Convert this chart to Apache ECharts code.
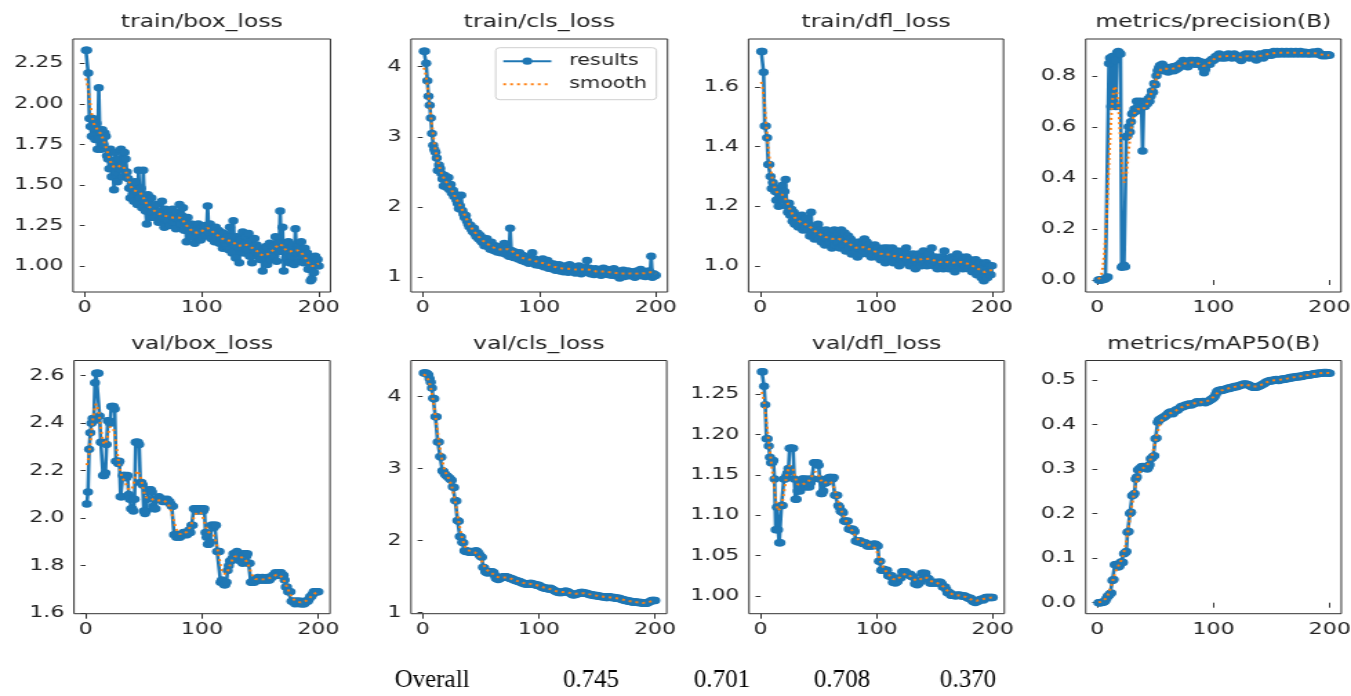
<!DOCTYPE html>
<html><head><meta charset="utf-8">
<script src="https://cdn.jsdelivr.net/npm/echarts@6/dist/echarts.min.js"></script>
<style>
html,body{margin:0;padding:0;background:#fff;overflow:hidden;width:1351px;height:696px}
#c{position:absolute;left:0;top:0;height:696px;transform-origin:0 0;}
</style></head><body><div id="c"></div>
<script>
// ---------------- data ----------------
const panelTitles = ['train/box_loss','train/cls_loss','train/dfl_loss','metrics/precision(B)','val/box_loss','val/cls_loss','val/dfl_loss','metrics/mAP50(B)'];
const legendNames = ['results','smooth'];
const xTickValues = [0,100,200];
const yTickValues = [
  [1.00,1.25,1.50,1.75,2.00,2.25],
  [1,2,3,4],
  [1.0,1.2,1.4,1.6],
  [0.0,0.2,0.4,0.6,0.8],
  [1.6,1.8,2.0,2.2,2.4,2.6],
  [1,2,3,4],
  [1.00,1.05,1.10,1.15,1.20,1.25],
  [0.0,0.1,0.2,0.3,0.4,0.5]
];
const yTickDecimals = [2,0,1,1,1,0,2,1];
const tableLabels = ['Overall','0.745','0.701','0.708','0.370'];

const trainBoxLoss = [
2.33,2.33,2.19,1.91,1.86,1.80,1.91,1.85,1.78,1.88,
1.72,2.10,1.78,1.72,1.84,1.75,1.82,1.80,1.68,1.66,
1.60,1.72,1.55,1.65,1.47,1.70,1.58,1.52,1.66,1.60,
1.72,1.62,1.55,1.70,1.66,1.58,1.54,1.48,1.42,1.50,
1.44,1.40,1.52,1.46,1.38,1.59,1.42,1.48,1.36,1.59,
1.40,1.34,1.26,1.44,1.38,1.30,1.42,1.33,1.36,1.30,
1.38,1.31,1.27,1.34,1.29,1.40,1.30,1.24,1.35,1.32,
1.28,1.34,1.25,1.31,1.35,1.27,1.30,1.23,1.33,1.29,
1.38,1.26,1.31,1.36,1.22,1.28,1.15,1.30,1.24,1.20,
1.26,1.18,1.23,1.14,1.22,1.19,1.26,1.20,1.16,1.24,
1.18,1.22,1.25,1.19,1.37,1.21,1.26,1.17,1.23,1.20,
1.15,1.24,1.19,1.22,1.14,1.21,1.17,1.11,1.20,1.16,
1.12,1.18,1.10,1.24,1.15,1.08,1.28,1.13,1.05,1.18,
1.12,1.02,1.16,1.10,1.21,1.08,1.14,1.18,1.10,1.20,
1.06,1.15,1.02,1.12,1.17,1.09,1.13,1.06,1.11,1.04,
1.08,0.97,1.10,1.05,1.12,1.01,1.07,1.14,1.04,1.09,
1.12,1.06,1.18,1.03,1.14,1.09,1.34,1.10,1.24,0.97,
1.12,1.05,1.09,1.15,1.02,1.11,1.06,1.13,1.01,1.23,
1.08,1.12,1.03,1.10,1.15,1.06,1.02,1.11,1.04,1.08,
0.98,1.05,0.91,0.92,1.03,0.96,1.06,1.01,1.04,1.00];

const trainClsLoss = [
4.22,4.22,4.05,3.80,3.58,3.45,3.27,3.05,2.88,2.82,
2.78,2.70,2.52,2.60,2.55,2.48,2.40,2.30,2.45,2.36,
2.28,2.42,2.25,2.32,2.20,2.24,2.15,2.18,2.10,2.05,
1.98,2.02,2.17,1.95,1.90,1.85,1.88,1.80,1.76,1.72,
1.74,1.68,1.65,1.70,1.62,1.58,1.63,1.55,1.60,1.52,
1.50,1.56,1.45,1.48,1.55,1.44,1.46,1.40,1.50,1.42,
1.38,1.45,1.40,1.36,1.43,1.39,1.35,1.42,1.37,1.48,
1.33,1.40,1.36,1.30,1.70,1.38,1.34,1.28,1.36,1.32,
1.30,1.26,1.35,1.29,1.24,1.31,1.27,1.22,1.28,1.25,
1.20,1.27,1.23,1.35,1.21,1.26,1.18,1.24,1.22,1.17,
1.23,1.19,1.26,1.15,1.22,1.18,1.24,1.13,1.20,1.16,
1.12,1.19,1.15,1.10,1.17,1.13,1.18,1.09,1.15,1.12,
1.08,1.16,1.11,1.14,1.07,1.18,1.12,1.09,1.15,1.10,
1.06,1.13,1.09,1.16,1.11,1.05,1.14,1.10,1.07,1.12,
1.24,1.08,1.13,1.05,1.11,1.09,1.04,1.12,1.07,1.10,
1.06,1.11,1.03,1.09,1.13,1.05,1.08,1.11,1.04,1.07,
1.10,1.03,1.08,1.12,1.05,1.02,1.09,1.06,0.99,1.08,
1.04,1.10,1.01,1.07,1.05,1.09,1.02,1.06,1.08,1.03,
1.07,1.00,1.05,1.09,1.03,1.06,1.11,1.02,1.05,1.08,
1.01,1.06,1.03,1.09,1.04,1.30,1.00,1.05,1.02,1.03];

const trainDflLoss = [
1.72,1.72,1.65,1.47,1.47,1.43,1.34,1.34,1.30,1.26,
1.28,1.26,1.25,1.22,1.25,1.20,1.26,1.23,1.27,1.22,
1.25,1.29,1.20,1.18,1.21,1.17,1.19,1.15,1.18,1.14,
1.17,1.15,1.13,1.16,1.14,1.17,1.12,1.15,1.13,1.16,
1.12,1.14,1.10,1.18,1.11,1.13,1.09,1.12,1.10,1.14,
1.09,1.12,1.08,1.11,1.10,1.07,1.12,1.09,1.11,1.08,
1.10,1.06,1.09,1.12,1.07,1.10,1.08,1.11,1.06,1.12,
1.09,1.07,1.11,1.05,1.08,1.10,1.06,1.09,1.04,1.07,
1.08,1.05,1.07,1.03,1.06,1.08,1.04,1.07,1.05,1.09,
1.06,1.08,1.04,1.07,1.05,1.03,1.06,1.04,1.07,1.05,
1.03,1.06,1.04,1.02,1.05,1.03,1.06,1.01,1.04,1.06,
1.02,1.05,1.03,1.06,1.01,1.04,1.02,1.05,1.03,1.00,
1.04,1.02,1.05,1.01,1.03,1.06,1.02,1.04,1.00,1.03,
1.01,1.04,1.02,0.99,1.03,1.01,1.04,1.02,1.00,1.03,
1.05,1.01,1.03,1.00,1.02,1.04,1.01,1.06,1.02,1.00,
1.03,1.01,0.99,1.02,1.00,1.03,1.01,0.99,1.05,1.02,
1.00,1.02,0.99,1.01,1.03,1.00,1.02,0.98,1.01,1.04,
1.02,1.00,1.03,1.01,0.99,1.02,1.00,1.03,1.01,0.99,
1.02,1.00,0.98,1.01,0.99,1.02,0.97,1.00,0.98,1.01,
0.96,0.99,0.95,0.97,1.01,0.96,0.98,1.00,0.97,1.00];

const precisionB = [
0.000,0.000,0.001,0.000,0.002,0.003,0.005,0.010,0.012,0.848,
0.870,0.680,0.875,0.700,0.860,0.680,0.890,0.895,0.890,0.885,
0.050,0.055,0.058,0.052,0.560,0.565,0.600,0.580,0.620,0.650,
0.655,0.670,0.660,0.700,0.680,0.690,0.700,0.690,0.505,0.690,
0.680,0.700,0.690,0.710,0.700,0.720,0.740,0.735,0.770,0.765,
0.800,0.820,0.830,0.840,0.835,0.845,0.820,0.835,0.825,0.830,
0.815,0.825,0.820,0.830,0.835,0.820,0.828,0.825,0.840,0.830,
0.835,0.850,0.845,0.860,0.850,0.855,0.845,0.835,0.850,0.860,
0.855,0.860,0.850,0.845,0.855,0.860,0.850,0.845,0.855,0.840,
0.830,0.812,0.825,0.840,0.850,0.855,0.845,0.860,0.865,0.860,
0.865,0.875,0.870,0.880,0.885,0.875,0.870,0.880,0.875,0.870,
0.880,0.875,0.885,0.880,0.875,0.870,0.880,0.885,0.880,0.875,
0.870,0.875,0.865,0.860,0.870,0.880,0.875,0.885,0.880,0.875,
0.870,0.885,0.880,0.875,0.880,0.870,0.862,0.875,0.880,0.885,
0.875,0.880,0.870,0.885,0.890,0.885,0.880,0.890,0.885,0.880,
0.890,0.895,0.890,0.885,0.895,0.890,0.885,0.890,0.895,0.890,
0.885,0.890,0.895,0.890,0.885,0.890,0.895,0.890,0.885,0.890,
0.895,0.890,0.885,0.890,0.895,0.888,0.885,0.890,0.892,0.888,
0.885,0.890,0.888,0.885,0.890,0.893,0.888,0.885,0.890,0.895,
0.888,0.885,0.880,0.878,0.882,0.880,0.878,0.880,0.882,0.880];

const valBoxLoss = [
2.06,2.11,2.29,2.36,2.40,2.42,2.41,2.57,2.61,2.61,
2.61,2.43,2.32,2.32,2.18,2.18,2.19,2.31,2.41,2.41,
2.40,2.47,2.47,2.47,2.46,2.24,2.24,2.23,2.24,2.09,
2.09,2.18,2.18,2.18,2.17,2.18,2.10,2.08,2.04,2.04,
2.03,2.08,2.32,2.32,2.32,2.31,2.15,2.15,2.14,2.03,
2.02,2.03,2.08,2.11,2.12,2.12,2.11,2.05,2.04,2.04,
2.08,2.08,2.09,2.08,2.08,2.07,2.08,2.07,2.07,2.08,
2.07,2.07,2.06,2.05,2.05,1.93,1.93,1.92,1.93,1.93,
1.92,1.93,1.93,1.94,1.93,1.94,1.93,1.94,1.95,1.94,
1.97,1.97,2.04,2.04,2.03,2.04,2.04,2.03,2.04,2.04,
2.03,2.04,1.94,1.92,1.89,1.89,1.90,1.97,1.97,1.96,
1.97,1.97,1.86,1.86,1.86,1.73,1.74,1.73,1.72,1.72,
1.73,1.78,1.80,1.82,1.82,1.83,1.85,1.85,1.85,1.86,
1.85,1.85,1.82,1.82,1.81,1.85,1.85,1.84,1.85,1.81,
1.81,1.73,1.73,1.74,1.73,1.74,1.74,1.75,1.74,1.74,
1.74,1.75,1.74,1.74,1.74,1.75,1.74,1.74,1.75,1.75,
1.76,1.76,1.77,1.76,1.76,1.77,1.77,1.77,1.76,1.76,
1.74,1.71,1.71,1.69,1.69,1.69,1.65,1.65,1.65,1.64,
1.65,1.65,1.65,1.64,1.65,1.64,1.64,1.64,1.65,1.65,
1.65,1.66,1.67,1.67,1.68,1.69,1.69,1.69,1.69,1.69];

const valClsLoss = [
4.33,4.33,4.33,4.32,4.30,4.25,4.20,4.12,3.98,3.97,
3.72,3.72,3.37,3.37,3.17,3.16,2.97,2.96,2.93,2.91,
2.90,2.88,2.87,2.85,2.84,2.75,2.74,2.56,2.55,2.28,
2.27,2.06,2.05,1.98,1.97,1.86,1.85,1.86,1.85,1.84,
1.84,1.85,1.84,1.85,1.84,1.86,1.85,1.83,1.80,1.78,
1.77,1.63,1.62,1.57,1.56,1.55,1.57,1.57,1.56,1.57,
1.56,1.52,1.48,1.47,1.46,1.47,1.48,1.49,1.50,1.50,
1.50,1.50,1.49,1.49,1.48,1.47,1.47,1.46,1.45,1.45,
1.44,1.44,1.43,1.43,1.42,1.41,1.41,1.40,1.40,1.40,
1.40,1.40,1.41,1.40,1.40,1.39,1.39,1.38,1.38,1.38,
1.37,1.36,1.35,1.35,1.34,1.34,1.34,1.33,1.33,1.34,
1.33,1.32,1.31,1.30,1.29,1.29,1.28,1.28,1.28,1.28,
1.29,1.29,1.30,1.29,1.29,1.28,1.27,1.26,1.25,1.25,
1.25,1.26,1.26,1.27,1.27,1.28,1.28,1.28,1.27,1.27,
1.27,1.26,1.26,1.25,1.25,1.25,1.24,1.24,1.24,1.24,
1.23,1.23,1.23,1.22,1.22,1.22,1.22,1.21,1.21,1.22,
1.22,1.21,1.21,1.21,1.21,1.20,1.20,1.20,1.20,1.19,
1.19,1.18,1.18,1.17,1.17,1.17,1.16,1.16,1.16,1.15,
1.15,1.15,1.15,1.15,1.14,1.14,1.14,1.14,1.13,1.13,
1.13,1.13,1.13,1.14,1.15,1.16,1.17,1.17,1.17,1.17];

const valDflLoss = [
1.278,1.278,1.260,1.237,1.195,1.195,1.186,1.172,1.165,1.165,
1.168,1.145,1.082,1.110,1.082,1.066,1.066,1.112,1.112,1.145,
1.145,1.148,1.152,1.158,1.183,1.183,1.183,1.183,1.145,1.120,
1.120,1.130,1.140,1.130,1.135,1.145,1.145,1.140,1.135,1.145,
1.138,1.135,1.140,1.145,1.145,1.165,1.165,1.163,1.165,1.162,
1.145,1.127,1.127,1.130,1.140,1.140,1.145,1.142,1.147,1.147,
1.147,1.145,1.147,1.125,1.125,1.125,1.112,1.110,1.105,1.105,
1.103,1.093,1.093,1.092,1.093,1.083,1.083,1.082,1.083,1.082,
1.080,1.068,1.068,1.067,1.068,1.068,1.066,1.065,1.065,1.066,
1.065,1.062,1.062,1.063,1.062,1.062,1.064,1.064,1.064,1.063,
1.062,1.043,1.043,1.032,1.032,1.033,1.032,1.031,1.032,1.025,
1.025,1.024,1.025,1.017,1.017,1.016,1.017,1.018,1.022,1.022,
1.023,1.030,1.030,1.029,1.030,1.027,1.027,1.026,1.027,1.024,
1.024,1.023,1.015,1.015,1.014,1.015,1.018,1.018,1.028,1.028,
1.027,1.028,1.022,1.022,1.021,1.016,1.016,1.016,1.017,1.016,
1.016,1.017,1.016,1.017,1.017,1.015,1.011,1.011,1.011,1.008,
1.004,1.004,1.004,1.001,1.001,1.001,1.001,1.000,1.001,1.001,
1.001,1.001,1.000,1.000,1.000,1.000,0.999,0.998,0.997,0.997,
0.997,0.995,0.993,0.993,0.992,0.993,0.993,0.995,0.995,0.996,
0.996,0.995,0.997,0.998,0.998,0.998,0.998,0.998,0.998,0.998];

const mAP50B = [
0.000,0.000,0.000,0.001,0.001,0.002,0.005,0.010,0.015,0.016,
0.020,0.022,0.050,0.052,0.085,0.086,0.084,0.080,0.082,0.090,
0.092,0.090,0.110,0.112,0.115,0.158,0.160,0.200,0.203,0.240,
0.242,0.245,0.278,0.282,0.298,0.300,0.302,0.305,0.306,0.305,
0.304,0.302,0.300,0.304,0.310,0.323,0.325,0.328,0.330,0.368,
0.370,0.405,0.410,0.412,0.413,0.415,0.416,0.418,0.420,0.422,
0.425,0.427,0.428,0.426,0.424,0.428,0.431,0.433,0.432,0.435,
0.437,0.440,0.441,0.440,0.442,0.444,0.443,0.445,0.446,0.445,
0.444,0.446,0.447,0.448,0.450,0.451,0.450,0.449,0.450,0.451,
0.452,0.450,0.449,0.451,0.452,0.453,0.455,0.456,0.458,0.460,
0.463,0.468,0.474,0.476,0.477,0.476,0.478,0.477,0.478,0.479,
0.480,0.481,0.482,0.481,0.483,0.484,0.483,0.485,0.486,0.485,
0.486,0.487,0.488,0.489,0.490,0.491,0.490,0.491,0.490,0.489,
0.488,0.486,0.485,0.484,0.484,0.485,0.484,0.485,0.486,0.487,
0.488,0.490,0.491,0.493,0.495,0.496,0.497,0.498,0.499,0.498,
0.499,0.500,0.500,0.501,0.500,0.499,0.500,0.501,0.502,0.501,
0.502,0.503,0.502,0.504,0.505,0.504,0.506,0.505,0.506,0.507,
0.507,0.508,0.507,0.508,0.509,0.508,0.509,0.510,0.511,0.510,
0.511,0.512,0.511,0.512,0.513,0.514,0.513,0.514,0.515,0.514,
0.515,0.516,0.515,0.516,0.517,0.516,0.517,0.516,0.516,0.515];

const panelSeries = [trainBoxLoss, trainClsLoss, trainDflLoss, precisionB, valBoxLoss, valClsLoss, valDflLoss, mAP50B];

// ---------------- layout (final page pixels) ----------------
const K = 1.38; // the reference picture is stretched horizontally
const frames = [
  [73,39,330.5,292],[411,39,667.5,292],[748.5,39,1003.5,292],[1085.7,39,1341,292],
  [74,360.5,330,613.7],[411,360.5,666.7,613.7],[749,360.5,1004.3,613.7],[1085.7,360.5,1341.3,613.7]
];
const yRanges = [[0.84,2.40],[0.79,4.395],[0.912,1.762],[-0.047,0.944],[1.598,2.664],[0.986,4.503],[0.978,1.2919],[-0.0247,0.5438]];
const xRange = [-10,210];
const tablePos = [[432,680],[591,680],[722,680],[842,680],[968,680]];

const FONT = '"DejaVu Sans", sans-serif';
const el = document.getElementById('c');
el.style.width = (1351 / K) + 'px';
el.style.transform = 'scaleX(' + K + ')';

// the plot's "smooth" curve: Gaussian filter (sigma 3, reflect) of the results, as in the original plotting code
function gaussianSmooth(y, sigma) {
  const r = Math.round(4 * sigma), w = [];
  let s = 0;
  for (let i = -r; i <= r; i++) { const v = Math.exp(-0.5 * i * i / (sigma * sigma)); w.push(v); s += v; }
  const n = y.length, out = [];
  for (let i = 0; i < n; i++) {
    let acc = 0;
    for (let j = -r; j <= r; j++) {
      let idx = i + j;
      while (idx < 0 || idx >= n) { if (idx < 0) idx = -idx - 1; if (idx >= n) idx = 2 * n - idx - 1; }
      acc += w[j + r] * y[idx];
    }
    out.push(acc / s);
  }
  return out;
}

const grids = [], xAxes = [], yAxes = [], series = [], graphics = [];
panelSeries.forEach((vals, i) => {
  const [L, T, R, B] = frames[i];
  grids.push({left: L / K, top: T, width: (R - L) / K, height: B - T, show: true,
    borderColor: '#333', borderWidth: 1, backgroundColor: 'transparent', containLabel: false, outerBoundsMode: 'none'});
  xAxes.push({type: 'value', gridIndex: i, min: xRange[0], max: xRange[1],
    axisLine: {show: false}, splitLine: {show: false},
    axisTick: {show: true, length: 5, customValues: xTickValues, lineStyle: {color: '#333', width: 1}},
    axisLabel: {customValues: xTickValues, margin: 8, fontFamily: FONT, fontSize: 16, color: '#222'}});
  const d = yTickDecimals[i];
  yAxes.push({type: 'value', gridIndex: i, min: yRanges[i][0], max: yRanges[i][1],
    axisLine: {show: false}, splitLine: {show: false},
    axisTick: {show: true, length: 5 / K, customValues: yTickValues[i], lineStyle: {color: '#333', width: 1}},
    axisLabel: {customValues: yTickValues[i], margin: 7, fontFamily: FONT, fontSize: 16, color: '#222',
      formatter: v => Number(v).toFixed(d)}});
  const pts = vals.map((v, k) => [k + 1, v]);
  const sm = gaussianSmooth(vals, 3).map((v, k) => [k + 1, v]);
  series.push({name: legendNames[0], type: 'line', xAxisIndex: i, yAxisIndex: i, data: pts,
    symbol: 'circle', symbolSize: 7.5, showSymbol: true, z: 2,
    lineStyle: {color: '#1f77b4', width: 2.6}, itemStyle: {color: '#1f77b4'}});
  series.push({name: legendNames[1], type: 'line', xAxisIndex: i, yAxisIndex: i, data: sm,
    symbol: 'none', z: 3, lineStyle: {color: '#ff7f0e', width: 2, type: [2, 3]},
    itemStyle: {color: 'rgba(255,127,14,0)'}});
  graphics.push({type: 'text', x: (L + R) / 2 / K, y: T - 16, silent: true,
    style: {text: panelTitles[i], fontFamily: FONT, fontSize: 17, fill: '#222', align: 'center', textAlign: 'center',
      verticalAlign: 'middle', textVerticalAlign: 'middle'}});
});
tableLabels.forEach((t, i) => {
  graphics.push({type: 'text', x: tablePos[i][0] / K, y: tablePos[i][1], scaleX: 1 / K, silent: true,
    style: {text: t, fontFamily: '"Liberation Serif", "Times New Roman", serif', fontSize: 25, fill: '#000',
      align: 'center', textAlign: 'center', verticalAlign: 'middle', textVerticalAlign: 'middle'}});
});

const chart = echarts.init(el, null, {renderer: 'canvas'});
chart.setOption({
  animation: false,
  backgroundColor: '#fff',
  grid: grids, xAxis: xAxes, yAxis: yAxes, series: series,
  legend: {data: legendNames,
    orient: 'vertical', left: 495.7 / K, top: 47.7,
    padding: [6, 7, 8, 4.5], itemGap: 8, itemWidth: 34.8, itemHeight: 9,
    borderColor: '#cfcfcf', borderWidth: 1, borderRadius: 3, backgroundColor: 'rgba(255,255,255,0.8)',
    textStyle: {fontFamily: FONT, fontSize: 15, color: '#222', padding: [0, 0, 0, 8]}},
  graphic: graphics
});
</script></body></html>
